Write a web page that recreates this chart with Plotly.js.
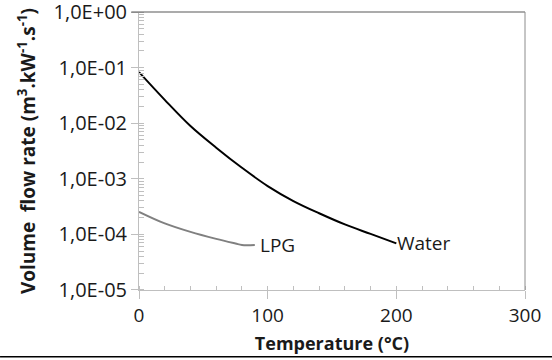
<!DOCTYPE html>
<html>
<head>
<meta charset="utf-8">
<script src="https://cdn.plot.ly/plotly-3.0.1.min.js"></script>
<style>html,body{margin:0;padding:0;background:#fff;}#chart{width:552px;height:360px;}</style>
</head>
<body>
<div id="chart"></div>
<script>
// Data
const waterT = [0, 20, 40, 60, 80, 100, 120, 140, 160, 180, 200];
const waterQ = [0.083, 0.0263, 0.0089, 0.00363, 0.00158, 0.00074, 0.000398, 0.00024, 0.000151, 0.000102, 0.000069];
const lpgT = [0, 20, 40, 60, 75, 80, 90];
const lpgQ = [0.000255, 0.000158, 0.000111, 0.000083, 0.0000685, 0.0000645, 0.0000645];
const yTickVals = [1, 0.1, 0.01, 0.001, 0.0001, 0.00001];
const yTickText = ['1,0E+00', '1,0E-01', '1,0E-02', '1,0E-03', '1,0E-04', '1,0E-05'];
const xTickVals = [0, 100, 200, 300];
const seriesNames = ['Water', 'LPG'];

const tickFont = {family: 'Open Sans, sans-serif', size: 19, color: '#1a1a1a'};
const yTickFont = {family: 'Open Sans, sans-serif', size: 20, color: '#1a1a1a'};
const xTitleFont = {family: 'Open Sans, sans-serif', size: 18, color: '#1a1a1a', weight: 'bold'};
const yTitleFont = {family: 'Open Sans, sans-serif', size: 19, color: '#1a1a1a', weight: 'bold'};

const traces = [
  {x: waterT, y: waterQ, name: seriesNames[0], mode: 'lines', line: {color: '#000000', width: 2, shape: 'spline', smoothing: 1}},
  {x: lpgT, y: lpgQ, name: seriesNames[1], mode: 'lines', line: {color: '#808080', width: 2, shape: 'spline', smoothing: 1}}
];

const layout = {
  width: 552, height: 360,
  margin: {l: 138.5, r: 26.5, t: 11.5, b: 70},
  paper_bgcolor: '#ffffff', plot_bgcolor: '#ffffff',
  showlegend: false,
  xaxis: {
    range: [0, 300], tickmode: 'array', tickvals: xTickVals,
    ticks: 'outside', ticklen: 8, tickcolor: '#bfbfbf', tickwidth: 1,
    showline: true, linecolor: '#bfbfbf', linewidth: 1,
    showgrid: false, zeroline: false, tickfont: tickFont, ticklabeloverflow: 'allow',
    minor: {ticks: 'inside', ticklen: 4, tickcolor: '#bfbfbf', dtick: 20, tick0: 0, showgrid: false},
    title: {text: 'Temperature (°C)', font: xTitleFont, standoff: 10}
  },
  yaxis: {
    type: 'log', range: [-5.0005, 0.0005], tickmode: 'array', tickvals: yTickVals, ticktext: yTickText,
    ticks: 'outside', ticklen: 7, tickcolor: '#bfbfbf', tickwidth: 1,
    showline: true, linecolor: '#bfbfbf', linewidth: 1,
    showgrid: false, zeroline: false, tickfont: yTickFont, ticklabeloverflow: 'allow',
    minor: {ticks: 'inside', ticklen: 5, tickcolor: '#bfbfbf', dtick: 'D1', showgrid: false},
    title: {text: 'Volume  flow rate (m<sup>3</sup>.kW<sup>-1</sup>.s<sup>-1</sup>)\u00a0\u00a0', font: yTitleFont, standoff: 12}
  },
  shapes: [
    {type: 'line', xref: 'paper', yref: 'paper', x0: -0.02, x1: 1, y0: 1, y1: 1, line: {color: '#595959', width: 1.2}},
    {type: 'line', xref: 'paper', yref: 'paper', x0: 1, x1: 1, y0: 0, y1: 1, line: {color: '#8c8c8c', width: 1}},
    {type: 'line', xref: 'paper', yref: 'paper', x0: -0.36, x1: 1.07, y0: -0.2405, y1: -0.2405, line: {color: '#000000', width: 1.5}}
  ],
  annotations: [
    {x: 90, y: Math.log10(lpgQ[lpgQ.length - 1]), xref: 'x', yref: 'y', text: seriesNames[1], showarrow: false,
     xanchor: 'left', yanchor: 'middle', xshift: 3, font: tickFont},
    {x: 200, y: Math.log10(waterQ[waterQ.length - 1]), xref: 'x', yref: 'y', text: seriesNames[0], showarrow: false,
     xanchor: 'left', yanchor: 'middle', xshift: -1, font: tickFont}
  ]
};

Plotly.newPlot('chart', traces, layout, {displayModeBar: false, staticPlot: true});
</script>
</body>
</html>
